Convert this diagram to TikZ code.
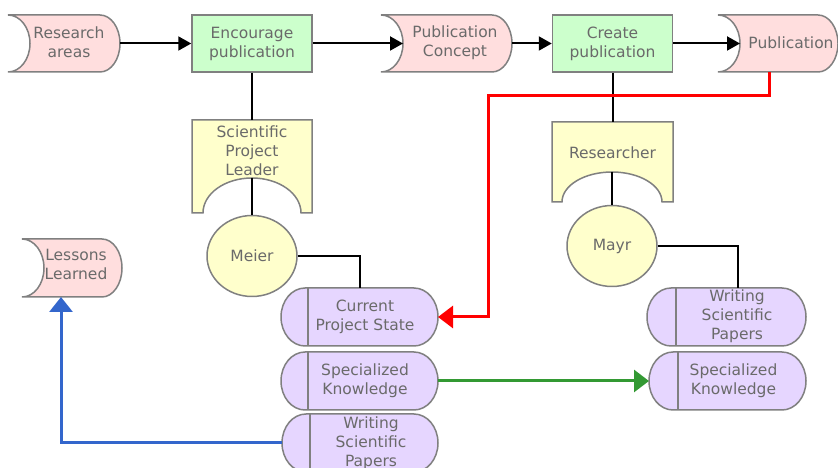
\documentclass[tikz,border=0pt]{standalone}
\usepackage{fontspec}
\setmainfont{DejaVu Sans}
\usetikzlibrary{arrows.meta,fit,shapes.geometric}
\definecolor{pinkf}{HTML}{FFDEDE}
\definecolor{greenf}{HTML}{CCFFCC}
\definecolor{yellf}{HTML}{FFFFCC}
\definecolor{lavf}{HTML}{E6D6FF}
\definecolor{bord}{HTML}{808080}
\definecolor{txt}{HTML}{6A6A6A}
\definecolor{rline}{HTML}{FF0000}
\definecolor{gline}{HTML}{339933}
\definecolor{bline}{HTML}{3366CC}
\tikzset{
  shp/.style={draw=bord, line width=1.5pt},
  lbl/.style={text=txt, align=center, font=\fontsize{15.5}{19}\selectfont, inner sep=0pt},
  area/.style={inner sep=0pt, outer sep=0pt},
  procbox/.style={shp, fill=greenf, lbl, minimum width=120pt, minimum height=57pt},
  person/.style={shp, fill=yellf, lbl, ellipse, minimum width=90pt, minimum height=81pt},
  conn/.style={line width=2pt, black},
  flow/.style={conn, -{Triangle[length=13pt,width=14pt]}},
  redflow/.style={line width=3pt, rline, -{Triangle[length=15pt,width=22pt]}},
  greenflow/.style={line width=3pt, gline, -{Triangle[length=15pt,width=22pt]}},
  blueflow/.style={line width=3pt, bline, -{Triangle[length=15pt,width=23pt]}},
}
% data store: name, x1, x2, Ytop, Ybot, text x, text y, text
\newcommand\dstore[8]{%
  \draw[shp,fill=pinkf] (#2,#4) -- ({#3-20},#4)
    arc[start angle=90,end angle=-90,x radius=20,y radius={(#4-#5)/2}]
    -- (#2,#5)
    arc[start angle=-90,end angle=90,x radius=22,y radius={(#4-#5)/2}] -- cycle;
  \node[area,fit={(#2,#4)(#3,#5)}] (#1) {};
  \coordinate (#1-in) at ({#2+22},{(#4+#5)/2});
  \node[lbl] (#1-t) at (#6,#7) {#8};
}
% stadium: name, x1, x2, Ytop, Ybot, bar x, text x, text y, text
\newcommand\stadium[9]{%
  \draw[shp,fill=lavf] ({#2+24},#4) -- ({#3-24},#4)
    arc[start angle=90,end angle=-90,x radius=24,y radius={(#4-#5)/2}]
    -- ({#2+24},#5)
    arc[start angle=-90,end angle=-270,x radius=24,y radius={(#4-#5)/2}] -- cycle;
  \draw[shp] (#6,#4) -- (#6,#5);
  \node[area,fit={(#2,#4)(#3,#5)}] (#1) {};
  \node[lbl] (#1-t) at (#7,#8) {#9};
}
% role box: name, x1, x2, Ytop, Ybot, arc x1, arc x2, arc peak Y, text
\newcommand\rolebox[9]{%
  \draw[shp,fill=yellf] (#2,#4) -- (#3,#4) -- (#3,#5) -- (#7,#5)
    arc[start angle=0,end angle=180,x radius={(#7-#6)/2},y radius={#8-#5}]
    -- (#2,#5) -- cycle;
  \node[area,fit={(#2,#4)(#3,#5)}] (#1) {};
  \coordinate (#1-n) at ({(#6+#7)/2},#8);
  \node[lbl] (#1-t) at ({(#2+#3)/2},{#4-31}) {#9};
}
\begin{document}
\begin{tikzpicture}[x=1pt,y=1pt]
\clip (0,0) rectangle (838,468);
\fill[white] (0,0) rectangle (838,468);

% top row
\dstore{ra}{8}{120}{453}{396}{69}{425.5}{Research\\areas}
\node[procbox] (enc) at (252,424.5) {Encourage\\publication};
\dstore{pc}{381}{512}{453}{396}{455}{425.5}{Publication\\Concept}
\node[procbox] (create) at (612.5,424.5) {Create\\publication};
\dstore{pub}{718}{838}{453}{396}{791}{425.5}{Publication}

% roles
\rolebox{spl}{192}{312}{348}{255}{203}{301}{290}{Scientific\\Project\\Leader}
\rolebox{res}{552}{673}{346}{266}{562}{662}{296}{Researcher}

% persons
\node[person] (meier) at (252,212) {Meier};
\node[person] (mayr) at (612,222) {Mayr};

% lessons
\dstore{ll}{22}{122}{229}{171}{76}{203.5}{Lessons\\Learned}

% knowledge
\stadium{cps}{281}{438}{180}{122}{308}{365}{151.5}{Current\\Project State}
\stadium{lsk}{281}{438}{116}{58}{308}{365}{87.5}{Specialized\\Knowledge}
\stadium{lwsp}{282}{438}{54}{-4}{310}{371}{25}{Writing\\Scientific\\Papers}
\stadium{rwsp}{647}{806}{180}{122}{676}{737}{151.5}{Writing\\Scientific\\Papers}
\stadium{rsk}{649}{806}{116}{58}{678}{733.5}{87.5}{Specialized\\Knowledge}

% connectors
\draw[flow] (ra.east) -- (enc.west);
\draw[flow] (enc.east) -- (pc-in);
\draw[flow] (pc.east) -- (create.west);
\draw[flow] (create.east) -- (pub-in);
\draw[conn] (enc.south) -- (spl.north);
\draw[conn] (spl-n) -- (meier.north);
\draw[conn] (meier.east) -| (cps.north);
\draw[conn] (create.south) -- (res.north);
\draw[conn] (res-n) -- (mayr.north);
\coordinate (rwtop) at (738,180);
\draw[conn] (mayr.east) -| (rwtop);
\coordinate (pubr) at (769,396);
\coordinate (redx) at (488,372);
\draw[redflow] (pubr) |- (redx) |- (cps.east);
\draw[greenflow] (lsk.east) -- (rsk.west);
\coordinate (llb) at (61,171);
\draw[blueflow] (lwsp.west) -| (llb);
\end{tikzpicture}
\end{document}
